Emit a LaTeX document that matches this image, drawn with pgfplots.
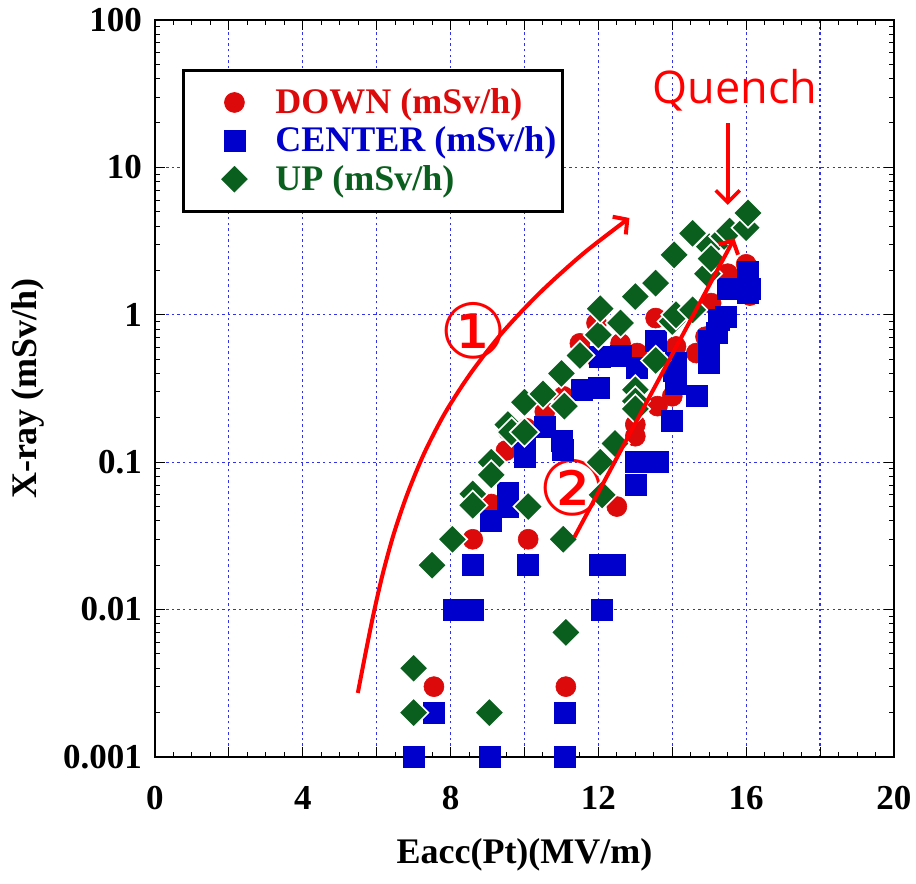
\documentclass[border=0pt]{standalone}
\usepackage{fontspec}
\setmainfont{Liberation Serif}
\newfontfamily\quenchfont{Open Sans}
\newfontfamily\symfont{DejaVu Sans}
\usepackage{pgfplots}
\pgfplotsset{compat=1.18}
\usetikzlibrary{arrows.meta}

\definecolor{downred}{RGB}{220,10,10}
\definecolor{centerblue}{RGB}{0,0,205}
\definecolor{upgreen}{RGB}{10,95,30}
\definecolor{gridblue}{RGB}{50,50,235}

\begin{document}
\begin{tikzpicture}
\begin{axis}[
  set layers,
  scale only axis, width=369.5pt, height=368.5pt,
  xmin=0, xmax=20, ymode=log, ymin=0.001, ymax=100,
  xtick={0,2,...,20}, xticklabels={0,,4,,8,,12,,16,,20},
  minor x tick num=3,
  ytick={0.001,0.01,0.1,1,10,100},
  yticklabels={0.001,0.01,0.1,1,10,100},
  tick align=inside, major tick length=5pt, minor tick length=2.5pt,
  every tick/.style={black, line width=0.5pt},
  grid=major, major grid style={gridblue, dash pattern=on 1.2pt off 1.6pt, line width=0.6pt},
  axis line style={line width=0.75pt},
  /pgf/number format/assume math mode=true,
  ticklabel style={font=\fontsize{17.5}{20}\selectfont\bfseries},
  xticklabel style={yshift=-11pt},
  yticklabel style={xshift=-3pt},
  xlabel={Eacc(Pt)(MV/m)}, ylabel={X-ray (mSv/h)},
  label style={font=\fontsize{18}{20}\selectfont\bfseries},
  xlabel style={at={(rel axis cs:0.5,-0.133)}, anchor=center},
  ylabel style={at={(rel axis cs:-0.172,0.5)}, anchor=center},
  clip=false,
  legend style={at={(rel axis cs:0.0365,0.9335)}, anchor=north west,
    draw=black, line width=1.5pt, fill=white,
    font=\fontsize{18}{20}\selectfont\bfseries,
    inner xsep=3pt, inner ysep=9pt, row sep=5pt,
    nodes={inner sep=0pt}, column sep=0pt},
  legend cell align=left,
  legend image code/.code={%
    \path[draw=none] (0pt,0pt) (43pt,0pt);
    \path[#1, draw=none, line width=0.6pt, only marks]
      plot coordinates {(22.5pt,0pt)};},
]
% DOWN detector
\addplot[only marks, mark=*, mark size=5pt,
  mark options={fill=downred, draw=downred, line width=0.3pt}]
coordinates {
 (7.55,0.003) (8.6,0.03) (9.1,0.052) (9.5,0.12) (9.55,0.165) (10.05,0.17)
 (10.1,0.03) (10.55,0.22) (11.05,0.28) (11.1,0.007) (11.12,0.003) (11.5,0.64)
 (11.95,0.88) (11.95,0.51) (12.5,0.05) (12.6,0.64) (13.05,0.55) (13.0,0.18)
 (13.0,0.15) (13.55,0.95) (13.6,0.24) (14.0,0.28) (14.1,0.61) (14.65,0.55)
 (14.9,0.71) (15.05,1.2) (15.5,1.9) (16.0,2.2) (16.1,1.35)
};
% CENTER detector
\addplot[only marks, mark=square*, mark size=5.25pt,
  mark options={fill=centerblue, draw=centerblue, line width=0.3pt}]
coordinates {
 (7.0,0.001) (7.55,0.002) (8.1,0.01) (8.35,0.01) (8.6,0.01) (8.6,0.02)
 (9.05,0.001) (9.1,0.04) (9.55,0.05) (9.55,0.062) (10.0,0.125) (10.0,0.108)
 (10.1,0.02) (10.55,0.175) (11.0,0.14) (11.05,0.122) (11.1,0.002) (11.1,0.001)
 (11.55,0.31) (12.0,0.32) (12.05,0.52) (12.05,0.02) (12.45,0.02) (12.1,0.01)
 (12.6,0.53) (13.05,0.44) (13.0,0.1) (13.3,0.1) (13.6,0.1) (13.0,0.07)
 (13.55,0.67) (14.0,0.19) (14.1,0.34) (14.1,0.47) (14.05,0.42) (14.65,0.28)
 (15.0,0.47) (15.0,0.67) (15.2,0.75) (15.25,0.92) (15.45,0.97) (15.5,1.5)
 (15.85,1.5) (16.05,1.95) (16.1,1.5) (16.05,1.4)
};
% UP detector
\addplot[only marks, mark=square*, mark size=5.2pt,
  mark options={fill=upgreen, draw=white, line width=0.8pt, rotate=45}]
coordinates {
 (7.0,0.004) (7.0,0.002) (7.5,0.02) (8.05,0.03) (8.6,0.061) (8.6,0.051)
 (9.05,0.002) (9.1,0.1) (9.1,0.082) (9.55,0.18) (9.65,0.16) (10.0,0.16)
 (10.0,0.255) (10.1,0.05) (10.5,0.29) (11.0,0.4) (11.08,0.24) (11.05,0.03)
 (11.12,0.007) (11.5,0.53) (12.0,0.73) (12.05,1.1) (12.05,0.1) (12.1,0.06)
 (12.45,0.134) (12.6,0.88) (13.0,1.33) (13.0,0.31) (13.0,0.26) (13.0,0.23)
 (13.55,1.64) (13.55,0.49) (14.0,0.9) (14.05,2.55) (14.1,1.0) (14.55,3.57)
 (14.55,1.08) (15.0,2.9) (14.95,1.9) (15.05,2.4) (15.4,3.4) (15.55,3.7)
 (16.0,3.9) (16.05,4.9)
};
\legend{\textcolor{downred}{DOWN (mSv/h)},
        \textcolor{centerblue}{CENTER (mSv/h)},
        \textcolor{upgreen}{UP (mSv/h)}}

% trend (1): rise on the first ramp
\addplot[forget plot, on layer=axis foreground, red, line width=2pt, smooth,
  -{Straight Barb[length=5pt,width=11pt]}]
coordinates {(5.49,0.00272) (5.70,0.00508) (5.92,0.00948) (6.17,0.0177)
  (6.47,0.0331) (6.84,0.0618) (7.29,0.1155) (7.85,0.2158) (8.55,0.403)
  (9.39,0.752) (10.41,1.405) (11.61,2.626) (12.84,4.536)};
% trend (2): rise on the second ramp
\addplot[forget plot, on layer=axis foreground, red, line width=2pt,
  -{Straight Barb[length=5pt,width=11pt]}]
coordinates {(11.35,0.031) (15.68,3.3)};
% quench marker
\addplot[forget plot, on layer=axis foreground, red, line width=1.8pt,
  -{Straight Barb[length=6pt,width=12pt]}]
coordinates {(15.5,20) (15.5,5.56)};
\node[text=red, font=\symfont\fontsize{38}{38}\selectfont]
  at (axis cs:8.62,0.78) {①};
\node[text=red, font=\symfont\fontsize{38}{38}\selectfont]
  at (axis cs:11.3,0.067) {②};
\node[text=red, font=\quenchfont\fontsize{22.5}{24}\selectfont]
  at (axis cs:15.7,33.5) {Quench};

\coordinate (bbsw) at (rel axis cs:-0.2097,-0.1723);
\coordinate (bbne) at (rel axis cs:1.0298,1.0271);
\end{axis}
\pgfresetboundingbox
\path[use as bounding box] (bbsw) rectangle (bbne);
\end{tikzpicture}
\end{document}
